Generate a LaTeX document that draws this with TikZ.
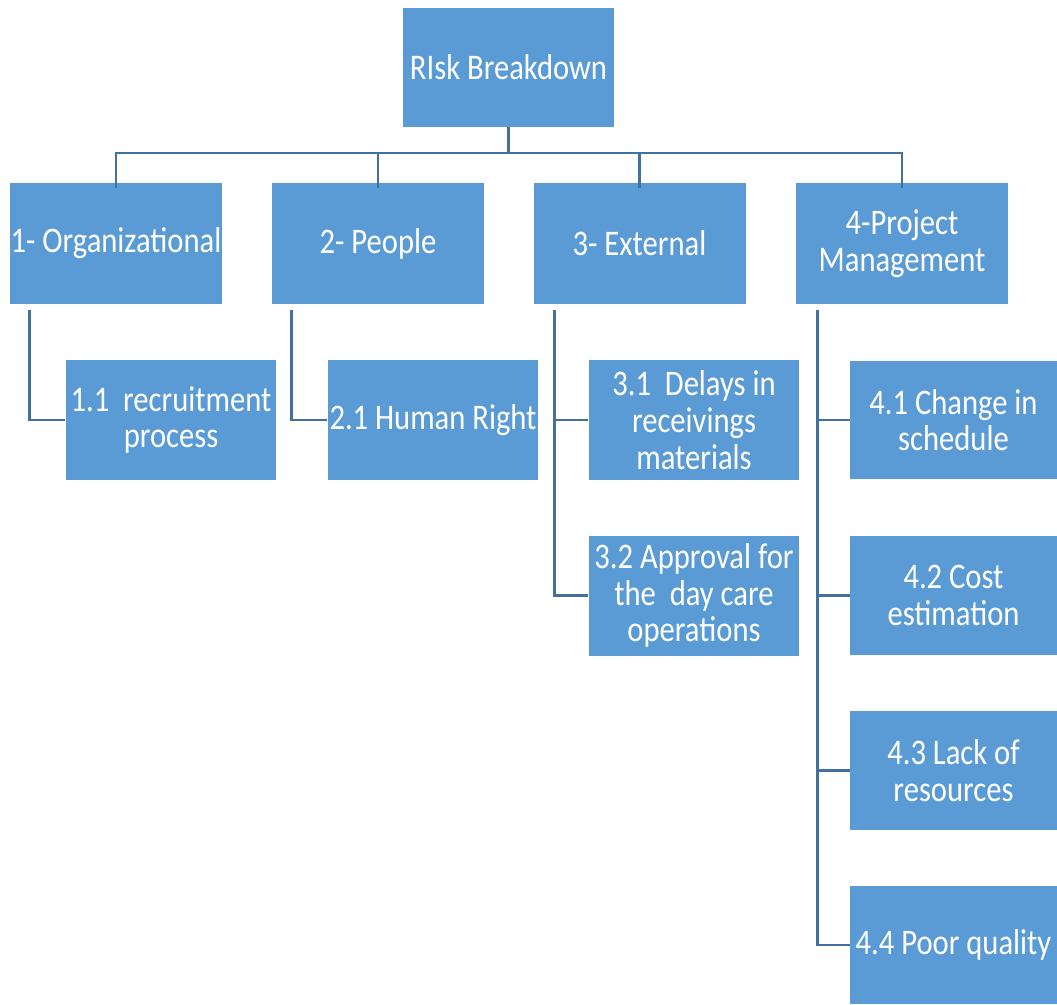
\documentclass[tikz,border=0pt]{standalone}
\usepackage{fontspec}
\setmainfont[FakeStretch=0.85]{Carlito}
\definecolor{boxblue}{HTML}{5B9BD5}
\definecolor{linkblue}{HTML}{41719C}
\begin{document}
\begin{tikzpicture}[x=0.75pt,y=-0.75pt,
  box/.style={rectangle, fill=boxblue, text=white, inner sep=0pt, align=center,
    font=\fontsize{27}{27.5}\selectfont},
  rootbox/.style={box, minimum width=158.25pt, minimum height=89.25pt},
  topbox/.style={box, minimum width=159pt, minimum height=90.75pt},
  subbox/.style={box, minimum width=158pt, minimum height=90pt},
  pmbox/.style={box, minimum width=155.5pt, minimum height=89pt},
  link/.style={draw=linkblue, line width=2.2pt}]
\useasboundingbox (0,0) rectangle (1057,1004);
\fill[white] (0,0) rectangle (1057,1004);

% root and first level
\node[rootbox] (root) at (508.5,67.5) {RIsk Breakdown};
\node[topbox] (org) at (116,243.5) {1- Organizational};
\node[topbox] (ppl) at (378,243.5) {2- People};
\node[topbox] (ext) at (639.5,243.5) {3- External};
\node[topbox] (pm)  at (902,243.5) {4-Project\\Management};

% second level
\node[subbox] (r11) at (171,420) {1.1\ \ recruitment\\process};
\node[subbox] (r21) at (433,420) {2.1 Human Right};
\node[subbox] (r31) at (694,420) {3.1\ \ Delays in\\receivings\\materials};
\node[subbox] (r32) at (694,595.5) {3.2 Approval for\\the\ \ day care\\operations};
\node[pmbox] (r41) at (953.5,420) {4.1 Change in\\schedule};
\node[pmbox] (r42) at (953.5,595.5) {4.2 Cost\\estimation};
\node[pmbox] (r43) at (953.5,770.5) {4.3 Lack of\\resources};
\node[pmbox] (r44) at (953.5,945) {4.4 Poor quality};

% root to first level
\coordinate (bar) at (510,153);
\draw[link] (root.south) -- (root.south |- bar);
\draw[link] ([yshift=-4pt]org.north) -- (org.north |- bar) -- (pm.north |- bar) -- ([yshift=-4pt]pm.north);
\draw[link] ([yshift=-4pt]ppl.north) -- (ppl.north |- bar);
\draw[link] ([yshift=-4pt]ext.north) -- (ext.north |- bar);

% first level to second level
\coordinate (o0) at ([xshift=15pt,yshift=-4pt]org.south west);
\coordinate (p0) at ([xshift=15pt,yshift=-4pt]ppl.south west);
\coordinate (e0) at ([xshift=16pt,yshift=-4pt]ext.south west);
\coordinate (m0) at ([xshift=16pt,yshift=-4pt]pm.south west);
\draw[link] (o0) |- (r11.west);
\draw[link] (p0) |- (r21.west);
\draw[link] (e0) |- (r32.west);
\draw[link] (e0 |- r31.west) -- (r31.west);
\draw[link] (m0) |- (r44.west);
\draw[link] (m0 |- r41.west) -- (r41.west);
\draw[link] (m0 |- r42.west) -- (r42.west);
\draw[link] (m0 |- r43.west) -- (r43.west);
\end{tikzpicture}
\end{document}
